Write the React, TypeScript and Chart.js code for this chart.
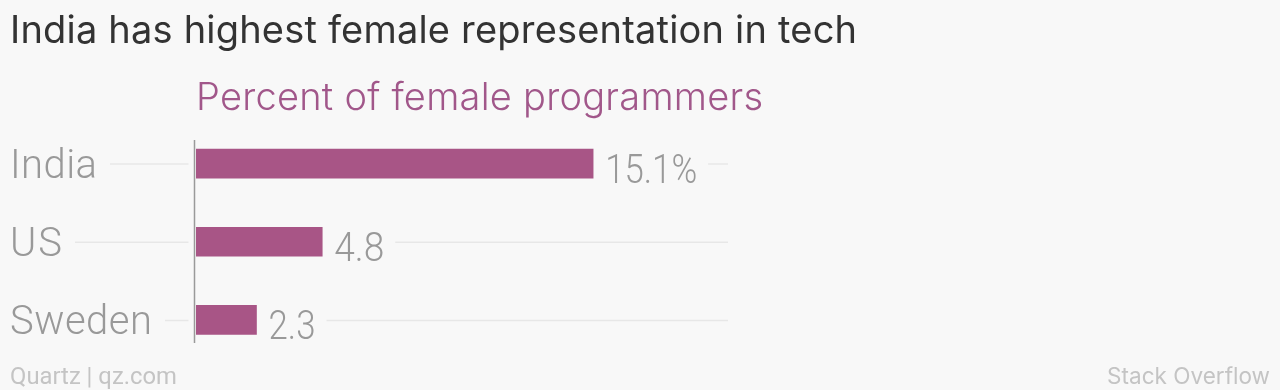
import React, { useEffect, useRef } from "react";
import { Chart, registerables } from "chart.js";

Chart.register(...registerables);

const title = "India has highest female representation in tech";
const subtitle = "Percent of female programmers";
const categories = ["India", "US", "Sweden"];
const values = [15.1, 4.8, 2.3];
const valueLabels = ["15.1%", "4.8", "2.3"];
const footerLeft = "Quartz | qz.com";
const footerRight = "Stack Overflow";

const BG = "#f8f8f8";
const BAR = "#a85586";

function fitSize(ctx: CanvasRenderingContext2D, text: string, family: string, weight: string, target: number) {
  ctx.font = `${weight} 100px ${family}`;
  (ctx as any).letterSpacing = "0px";
  const w = ctx.measureText(text).width;
  return (100 * target) / w;
}

// draw text at a given size, adjusting letter spacing so it spans target width
function drawSpaced(
  ctx: CanvasRenderingContext2D,
  text: string,
  x: number,
  y: number,
  family: string,
  weight: string,
  size: number,
  target: number
) {
  ctx.font = `${weight} ${size}px ${family}`;
  (ctx as any).letterSpacing = "0px";
  const w = ctx.measureText(text).width;
  const n = Math.max(1, text.length - 1);
  const ls = (target - w) / n;
  (ctx as any).letterSpacing = `${ls}px`;
  ctx.textAlign = "left";
  ctx.fillText(text, x, y);
  (ctx as any).letterSpacing = "0px";
}

// draw text at a given size, squeezed horizontally to span target width
function drawScaled(
  ctx: CanvasRenderingContext2D,
  text: string,
  x: number,
  y: number,
  family: string,
  weight: string,
  size: number,
  target: number
) {
  ctx.font = `${weight} ${size}px ${family}`;
  (ctx as any).letterSpacing = "0px";
  const w = ctx.measureText(text).width;
  ctx.save();
  ctx.translate(x, y);
  ctx.scale(target / w, 1);
  ctx.textAlign = "left";
  ctx.fillText(text, 0, 0);
  ctx.restore();
}

const decor = {
  id: "decor",
  beforeDraw(chart: any) {
    const { ctx, width, height } = chart;
    ctx.save();
    ctx.fillStyle = BG;
    ctx.fillRect(0, 0, width, height);
    ctx.restore();
  },
  beforeDatasetsDraw(chart: any) {
    const { ctx, chartArea } = chart;
    const y = chart.scales.y;
    const meta = chart.getDatasetMeta(0);
    ctx.save();
    const fam = "Roboto";
    const catSize = 40;
    const valSize = 41;
    const catW = [87, 52, 142];
    const valW = [92, 50, 47];
    const axisX = 194.5;
    ctx.textBaseline = "alphabetic";
    categories.forEach((c, i) => {
      const cy = y.getPixelForValue(i);
      const bar = meta.data[i];
      const vx = bar.x + 12;
      ctx.strokeStyle = "#e7e7e7";
      ctx.lineWidth = 1.5;
      ctx.beginPath();
      ctx.moveTo(10 + catW[i] + 13, cy + 0.5);
      ctx.lineTo(axisX - 6, cy + 0.5);
      ctx.moveTo(vx + valW[i] + 11, cy + 0.5);
      ctx.lineTo(chartArea.right + 6, cy + 0.5);
      ctx.stroke();
      ctx.fillStyle = "#999999";
      drawSpaced(ctx, c, 10, cy + 14, fam, "300", catSize, catW[i]);
      drawScaled(ctx, valueLabels[i], vx, cy + 19, fam, "300", valSize, valW[i]);
    });
    // axis line
    ctx.strokeStyle = "#9a9a9a";
    ctx.lineWidth = 1.5;
    ctx.beginPath();
    ctx.moveTo(axisX, 140);
    ctx.lineTo(axisX, 343);
    ctx.stroke();
    // titles
    const tFam = "Inter";
    ctx.fillStyle = "#333333";
    drawSpaced(ctx, title, 10, 43, tFam, "400", 38, 847);
    ctx.fillStyle = "#a1578a";
    drawSpaced(ctx, subtitle, 196, 110, tFam, "300", 38, 567);
    // footers
    ctx.fillStyle = "#c4c4c4";
    const fl = fitSize(ctx, footerLeft, "Roboto", "400", 167);
    ctx.font = `400 ${fl}px Roboto`;
    ctx.textAlign = "left";
    ctx.fillText(footerLeft, 10, 384);
    const fr = fitSize(ctx, footerRight, tFam, "400", 163);
    ctx.font = `400 ${fr}px ${tFam}`;
    ctx.textAlign = "right";
    ctx.fillText(footerRight, 1270, 384);
    ctx.restore();
  },
};

export default function App() {
  const ref = useRef<HTMLCanvasElement | null>(null);
  useEffect(() => {
    document.body.style.margin = "0";
    document.body.style.background = BG;
    const chart = new Chart(ref.current!, {
      type: "bar",
      data: {
        labels: categories,
        datasets: [
          {
            data: values,
            backgroundColor: BAR,
            borderWidth: 0,
            barThickness: 29,
          },
        ],
      },
      options: {
        indexAxis: "y",
        animation: false,
        responsive: false,
        devicePixelRatio: 1,
        layout: { padding: { left: 196, right: 558, top: 124.5, bottom: 31 } },
        plugins: { legend: { display: false }, tooltip: { enabled: false }, title: { display: false } },
        scales: {
          x: { display: false, min: 0, max: 20 },
          y: { display: false },
        },
      },
      plugins: [decor],
    });
    return () => chart.destroy();
  }, []);
  return <canvas ref={ref} width={1280} height={390} style={{ display: "block" }} />;
}
